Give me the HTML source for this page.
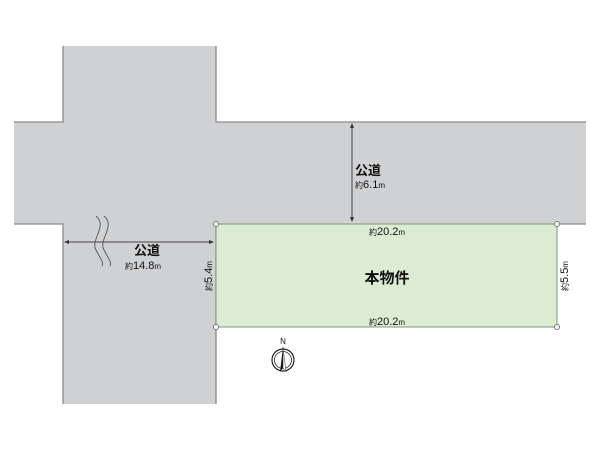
<!DOCTYPE html>
<html><head><meta charset="utf-8"><style>
html,body{margin:0;padding:0;background:#fff;width:600px;height:450px;overflow:hidden}
svg{display:block}
text{font-family:"Liberation Sans","Noto Sans CJK JP",sans-serif;fill:#111}
</style></head><body>
<svg width="600" height="450" viewBox="0 0 600 450" xmlns="http://www.w3.org/2000/svg">
<polygon points="63,46 216,46 216,122 586,122 586,224 216,224 216,404 63,404 63,224 14,224 14,122 63,122" fill="#d0d1d3"/>
<g stroke="#8a8a8a" stroke-width="1.3" fill="none">
<polyline points="14,122 63,122 63,46"/>
<polyline points="216,46 216,122 586,122"/>
<polyline points="14,224 63,224 63,404"/>
<line x1="216" y1="224" x2="216" y2="404"/>
<line x1="557" y1="224" x2="586" y2="224"/>
</g>
<rect x="216" y="224" width="341" height="103" fill="#dcebd3" stroke="#7a9a70" stroke-width="1"/>
<g fill="#fff" stroke="#777" stroke-width="1">
<circle cx="216" cy="224" r="2.5"/><circle cx="557" cy="224" r="2.5"/>
<circle cx="216" cy="327" r="2.5"/><circle cx="557" cy="327" r="2.5"/>
</g>
<!-- dimension arrows -->
<g stroke="#444" stroke-width="1" fill="#333">
<line x1="352" y1="126" x2="352" y2="220"/>
<polygon points="352,123 350,128 354,128" stroke="none"/>
<polygon points="352,222 350,217 354,217" stroke="none"/>
<line x1="66" y1="242" x2="213" y2="242"/>
<polygon points="64,242 69,240 69,244" stroke="none"/>
<polygon points="214,242 209,240 209,244" stroke="none"/>
</g>
<path d="M96,216 C108,226 90,240 96,250 C100,258 104,262 102,266" stroke="#555" fill="none" stroke-width="0.9"/>
<path d="M104,216 C116,226 98,240 104,250 C108,258 112,262 110,266" stroke="#555" fill="none" stroke-width="0.9"/>
<rect x="96" y="236" width="12" height="12" fill="#d0d1d3" opacity="0"/>
<text x="368" y="175" font-size="13" font-weight="bold" text-anchor="middle">公道</text>
<text x="370" y="188" font-size="11" text-anchor="middle"><tspan font-size="8">約</tspan>6.1<tspan font-size="8">m</tspan></text>
<text x="147" y="255" font-size="13" font-weight="bold" text-anchor="middle">公道</text>
<text x="143" y="269" font-size="11" text-anchor="middle"><tspan font-size="8">約</tspan>14.8<tspan font-size="8">m</tspan></text>
<text x="387" y="235" font-size="11" text-anchor="middle"><tspan font-size="8">約</tspan>20.2<tspan font-size="8">m</tspan></text>
<text x="387" y="325" font-size="11" text-anchor="middle"><tspan font-size="8">約</tspan>20.2<tspan font-size="8">m</tspan></text>
<text x="387" y="283" font-size="15" font-weight="bold" text-anchor="middle">本物件</text>
<text transform="translate(212,276) rotate(-90)" font-size="11" text-anchor="middle"><tspan font-size="8">約</tspan>5.4<tspan font-size="8">m</tspan></text>
<text transform="translate(568,276) rotate(-90)" font-size="11" text-anchor="middle"><tspan font-size="8">約</tspan>5.5<tspan font-size="8">m</tspan></text>
<!-- north -->
<text x="283" y="344" font-size="8" text-anchor="middle">N</text>
<circle cx="283" cy="360" r="11" fill="none" stroke="#222" stroke-width="1.2"/>
<circle cx="283" cy="360" r="8.5" fill="none" stroke="#222" stroke-width="0.8"/>
<polygon points="283,347 280,372 283,368" fill="#111"/>
<polygon points="283,347 286,372 283,368" fill="#fff" stroke="#333" stroke-width="0.5"/>
</svg>
</body></html>
